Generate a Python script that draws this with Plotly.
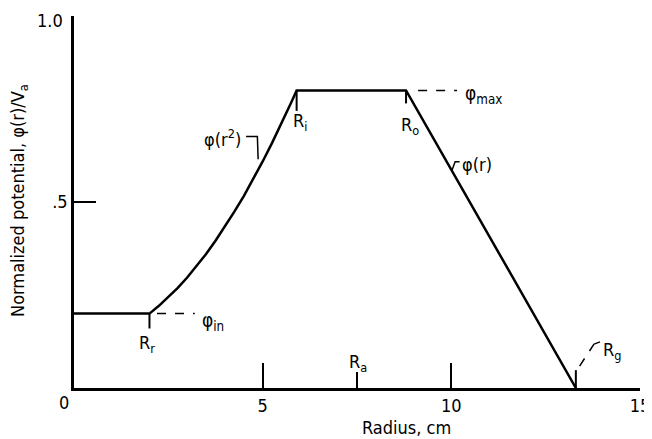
import plotly.graph_objects as go

# radii (cm) of the electrodes / regions
R_r = 2.0
R_i = 5.9
R_o = 8.8
R_a = 7.5
R_g = 13.3
PHI_IN = 0.2
PHI_MAX = 0.8

# potential profile
radius = [0.0, 2.0, 2.25, 2.5, 2.75, 3.0, 3.25, 3.5, 3.75, 4.0, 4.25, 4.5,
          4.75, 5.0, 5.25, 5.5, 5.75, 5.9, 8.8, 13.3]
potential = [0.200, 0.200, 0.221, 0.244, 0.269, 0.297, 0.328, 0.360, 0.396,
             0.434, 0.474, 0.516, 0.561, 0.609, 0.659, 0.711, 0.766, 0.800,
             0.800, 0.0]

x_ticks = [0, 5, 10, 15]
x_ticktext = ["", "5", "10", "15"]
y_ticks = [0.5, 1.0]
y_ticktext = [".5", ""]  # "1.0" is placed as an annotation so it isn't clipped

FONT = "DejaVu Sans Condensed, DejaVu Sans, sans-serif"
BLACK = "black"

fig = go.Figure()
fig.add_trace(go.Scatter(x=radius, y=potential, mode="lines",
                         line=dict(color=BLACK, width=2.5), showlegend=False,
                         hoverinfo="skip"))


def seg(x0, y0, x1, y1, dash="solid", w=1.5):
    fig.add_shape(type="line", x0=x0, y0=y0, x1=x1, y1=y1, xref="x", yref="y",
                  line=dict(color=BLACK, width=w, dash=dash))


def label(x, y, text, xanchor="center", yanchor="middle", size=18, ref="x", **kw):
    fig.add_annotation(x=x, y=y, xref=ref, yref=ref.replace("x", "y"), text=text,
                       showarrow=False, xanchor=xanchor, yanchor=yanchor,
                       font=dict(family=FONT, size=size, color=BLACK), **kw)


# radius markers
seg(R_r, PHI_IN, R_r, PHI_IN - 0.04, w=2)
label(R_r - 0.07, 0.118, "R<sub>r</sub>")
seg(R_i, PHI_MAX, R_i, PHI_MAX - 0.055, w=2)
label(R_i + 0.09, 0.715, "R<sub>i</sub>")
seg(R_o, PHI_MAX, R_o, PHI_MAX - 0.035, w=2)
label(R_o + 0.1, 0.705, "R<sub>o</sub>")
seg(R_a, 0, R_a, 0.043, w=2)
label(R_a + 0.03, 0.066, "R<sub>a</sub>")
seg(R_g, 0, R_g, 0.048, w=2)
seg(R_g + 0.1, 0.059, R_g + 0.48, 0.118, dash="dash")
seg(R_g + 0.48, 0.118, R_g + 0.64, 0.124)
label(R_g + 0.66, 0.1, "R<sub>g</sub>", xanchor="left")

# potential levels
seg(R_r + 0.2, PHI_IN, R_r + 1.2, PHI_IN, dash="dash")
label(R_r + 1.34, 0.18, "φ<sub>in</sub>", xanchor="left", size=19)
seg(R_o + 0.32, PHI_MAX, R_o + 1.35, PHI_MAX, dash="dash")
label(R_o + 1.5, 0.79, "φ<sub>max</sub>", xanchor="left", size=19)

# curve labels
label(4.48, 0.672, "φ(r<sup>2</sup>)", xanchor="right")
fig.add_trace(go.Scatter(x=[4.56, 4.86, 4.88], y=[0.676, 0.676, 0.615], mode="lines",
                         line=dict(color=BLACK, width=1.5), showlegend=False,
                         hoverinfo="skip"))
fig.add_trace(go.Scatter(x=[10.02, 10.1, 10.22], y=[0.586, 0.608, 0.608], mode="lines",
                         line=dict(color=BLACK, width=1.5), showlegend=False,
                         hoverinfo="skip"))
label(10.22, 0.602, "φ(r)", xanchor="left")

# origin label, top tick label and axis titles (paper coords, outside the plot)
label(-0.018, -0.04, "0", ref="paper")
label(-0.016, 1.0215, "1.0", xanchor="right", yanchor="top", ref="paper")
label(0.588, -0.105, "Radius, cm", ref="paper")
label(-0.097, 0.503, "Normalized potential, φ(r)/V<sub>a</sub>", ref="paper",
      textangle=-90)

# the page body adds an 8px margin, so the figure is 8px smaller to line up
fig.update_layout(
    width=644, height=431,
    margin=dict(l=66, r=12, t=8, b=51, autoexpand=False),
    paper_bgcolor="white", plot_bgcolor="white",
    font=dict(family=FONT, size=18, color=BLACK),
    xaxis=dict(range=[0, 15], tickvals=x_ticks, ticktext=x_ticktext,
               ticks="inside", ticklen=25, tickwidth=2, tickcolor=BLACK,
               showline=True, linewidth=2.5, linecolor=BLACK, automargin=False,
               ticklabeloverflow="allow",
               showgrid=False, zeroline=False, fixedrange=True),
    yaxis=dict(range=[0, 1.0], tickvals=y_ticks, ticktext=y_ticktext,
               ticks="inside", ticklen=22, tickwidth=2, tickcolor=BLACK,
               showline=True, linewidth=2.5, linecolor=BLACK, automargin=False,
               ticklabeloverflow="allow",
               showgrid=False, zeroline=False, fixedrange=True),
    showlegend=False,
)

fig.write_html("out.html")
